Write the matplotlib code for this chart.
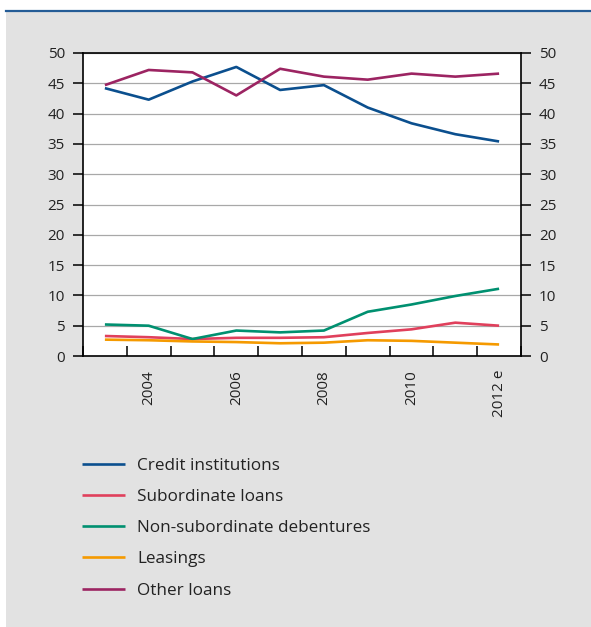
import matplotlib
matplotlib.use("Agg")
from matplotlib import pyplot as plt
from matplotlib.patches import Rectangle
from matplotlib.lines import Line2D
import numpy as np

plt.rcParams['font.family'] = ['Open Sans', 'DejaVu Sans']

years = ["2003", "2004", "2005", "2006", "2007", "2008", "2009", "2010", "2011", "2012 e"]
credit_institutions = [44.2, 42.3, 45.3, 47.7, 43.9, 44.7, 41.0, 38.4, 36.6, 35.4]
subordinate_loans = [3.3, 3.1, 2.8, 3.0, 3.0, 3.1, 3.8, 4.4, 5.5, 5.0]
non_subordinate = [5.2, 5.0, 2.8, 4.2, 3.9, 4.2, 7.3, 8.5, 9.9, 11.1]
leasings = [2.7, 2.6, 2.4, 2.3, 2.1, 2.2, 2.6, 2.5, 2.2, 1.9]
other_loans = [44.7, 47.2, 46.8, 43.0, 47.4, 46.1, 45.6, 46.6, 46.1, 46.6]

series = [
    ("Credit institutions", credit_institutions, "#0b4f8e"),
    ("Subordinate loans", subordinate_loans, "#e0405c"),
    ("Non-subordinate debentures", non_subordinate, "#009070"),
    ("Leasings", leasings, "#f59a00"),
    ("Other loans", other_loans, "#9c2462"),
]

W, H = 591, 627
fig = plt.figure(figsize=(W / 100, H / 100), dpi=100, facecolor="white")

# grey panel and blue rule on top
fig.patches.append(Rectangle((6 / W, 0), 1 - 6 / W, (H - 11) / H, transform=fig.transFigure,
                             facecolor="#e2e2e2", edgecolor="none", zorder=-10))
fig.add_artist(Line2D([6 / W, 1], [(H - 11) / H, (H - 11) / H], transform=fig.transFigure,
                      color="#245c96", linewidth=1.6, zorder=-5))

ax = fig.add_axes([83 / W, (H - 356) / H, 438 / W, 303 / H])
ax.set_facecolor("white")

x = np.arange(len(years))
for name, vals, col in series:
    ax.plot(x, vals, color=col, linewidth=1.9, label=name, solid_capstyle="butt")

ax.set_xlim(-0.5, len(years) - 0.5)
ax.set_ylim(0, 50)
ax.set_yticks(np.arange(0, 51, 5))
ax.yaxis.grid(True, color="#a8a8a8", linewidth=0.9)
ax.set_axisbelow(True)

ax.set_xticks(x[1::2])
ax.set_xticklabels(years[1::2], rotation=90, va="top", ha="center")
ax.set_xticks(np.arange(-0.5, len(years) + 0.5, 1), minor=True)
ax.tick_params(axis="x", which="major", length=0, pad=10, labelsize=11, labelcolor="#222222")
ax.tick_params(axis="x", which="minor", direction="in", length=7.5, width=1.1)
ax.tick_params(axis="y", which="major", direction="out", length=7.5, width=1.1, pad=5.5,
               labelsize=11, labelcolor="#222222", left=True, right=True, labelleft=True, labelright=True)

for s in ax.spines.values():
    s.set_linewidth(1.2)
    s.set_color("black")

fig.legend(loc="upper left", bbox_to_anchor=(67 / W, (H - 443) / H), frameon=False,
           fontsize=12.3, handlelength=2.5, handletextpad=0.7, labelspacing=0.88,
           labelcolor="#222222")

fig.savefig("out.png", dpi=100, facecolor=fig.get_facecolor())
